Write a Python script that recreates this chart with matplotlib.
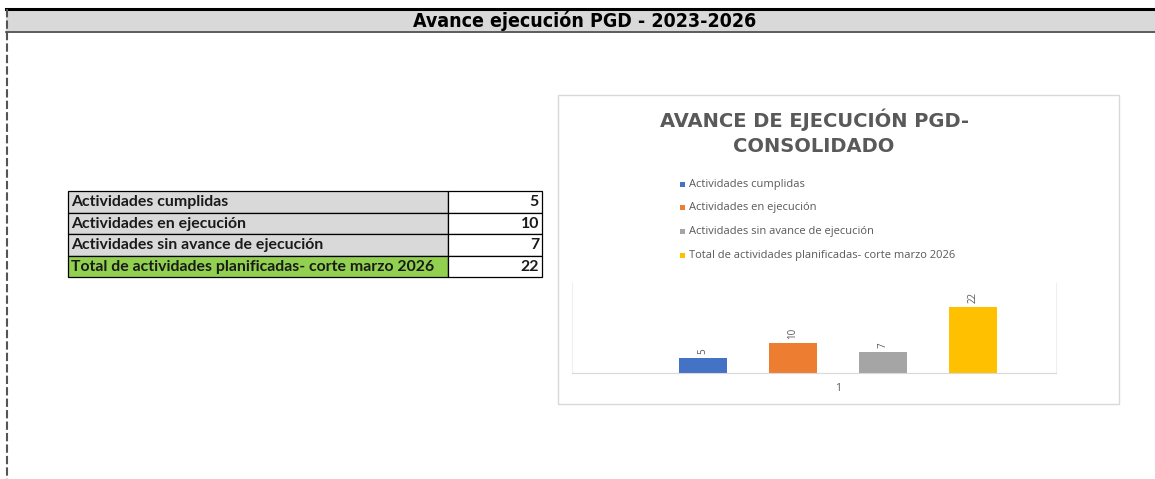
import matplotlib.pyplot as plt
from matplotlib.patches import Rectangle

# Datos
categorias = ["Actividades cumplidas",
              "Actividades en ejecución",
              "Actividades sin avance de ejecución",
              "Total de actividades planificadas- corte marzo 2026"]
valores = [5, 10, 7, 22]
colores = ["#4472c4", "#ed7d31", "#a5a5a5", "#ffc000"]
etiqueta_x = "1"

W, H = 1155, 479
fig = plt.figure(figsize=(W / 100, H / 100), dpi=100)

# Capa de fondo en pixeles (hoja de calculo)
bg = fig.add_axes([0, 0, 1, 1])
bg.set_xlim(0, W)
bg.set_ylim(H, 0)
bg.axis("off")

# Encabezado
bg.add_patch(Rectangle((6, 10), W - 6, 21, facecolor="#d9d9d9", edgecolor="none"))
bg.plot([6, W], [9, 9], color="black", lw=2.2)
bg.plot([6, W], [31.5, 31.5], color="#404040", lw=1.2)
bg.plot([6.5, 6.5], [9, H], color="#555555", lw=1.5, ls=(0, (4, 1.5)))
bg.text(585, 20.5, "Avance ejecución PGD - 2023-2026", ha="center", va="center",
        fontsize=14, fontweight="bold", fontstretch="condensed",
        family=["DejaVu Sans"])

# Tabla
x0, x1, x2 = 68, 448, 542
y0, rh = 191, 21.5
for i, (cat, val) in enumerate(zip(categorias, valores)):
    y = y0 + i * rh
    fc = "#92d050" if i == len(categorias) - 1 else "#d9d9d9"
    bg.add_patch(Rectangle((x0, y), x1 - x0, rh, facecolor=fc, edgecolor="black", lw=0.9))
    bg.add_patch(Rectangle((x1, y), x2 - x1, rh, facecolor="white", edgecolor="black", lw=0.9))
    bg.text(x0 + 3, y + rh / 2 + 0.5, cat, ha="left", va="center", fontsize=11.4,
            fontweight="bold", family="Lato", color="#1a1a1a")
    bg.text(x2 - 3, y + rh / 2 + 0.5, str(val), ha="right", va="center", fontsize=11.4,
            fontweight="bold", family="Lato", color="#1a1a1a")

# Marco del grafico
bg.add_patch(Rectangle((558, 95), 561, 309, facecolor="white", edgecolor="#d9d9d9", lw=1))
bg.text(814, 120, "AVANCE DE EJECUCIÓN PGD-", ha="center", va="center", fontsize=14,
        fontweight="bold", family="DejaVu Sans", color="#595959")
bg.text(814, 147, "CONSOLIDADO", ha="center", va="center", fontsize=14,
        fontweight="bold", family="DejaVu Sans", color="#595959")

# Leyenda
for i, (cat, c) in enumerate(zip(categorias, colores)):
    ly = 184 + i * 23.7
    bg.add_patch(Rectangle((680, ly - 2.5), 5, 5, facecolor=c, edgecolor="none"))
    bg.text(689, ly, cat, ha="left", va="center", fontsize=8, family="Open Sans", color="#595959")

# Barras
ax = fig.add_axes([572 / W, (H - 373) / H, (1056 - 572) / W, 90 / H])
pos = list(range(len(valores)))
ax.bar(pos, valores, width=0.53, color=colores)
for p, v in zip(pos, valores):
    ax.text(p, v + 1.2, str(v), rotation=90, ha="center", va="bottom",
            fontsize=7, color="#595959", family="Open Sans")
ax.set_xlim(-1.456, 3.922)
ax.set_ylim(0, 30)
ax.set_yticks([])
ax.set_xticks([1.5])
ax.set_xticklabels([etiqueta_x], fontsize=7.5, color="#595959", family="Open Sans")
ax.tick_params(axis="x", length=0, pad=7)
ax.spines["top"].set_visible(False)
ax.spines["bottom"].set_color("#d9d9d9")
ax.spines["left"].set_color("#efefef")
ax.spines["right"].set_color("#efefef")
ax.patch.set_alpha(0)

fig.savefig("out.png", dpi=100)
